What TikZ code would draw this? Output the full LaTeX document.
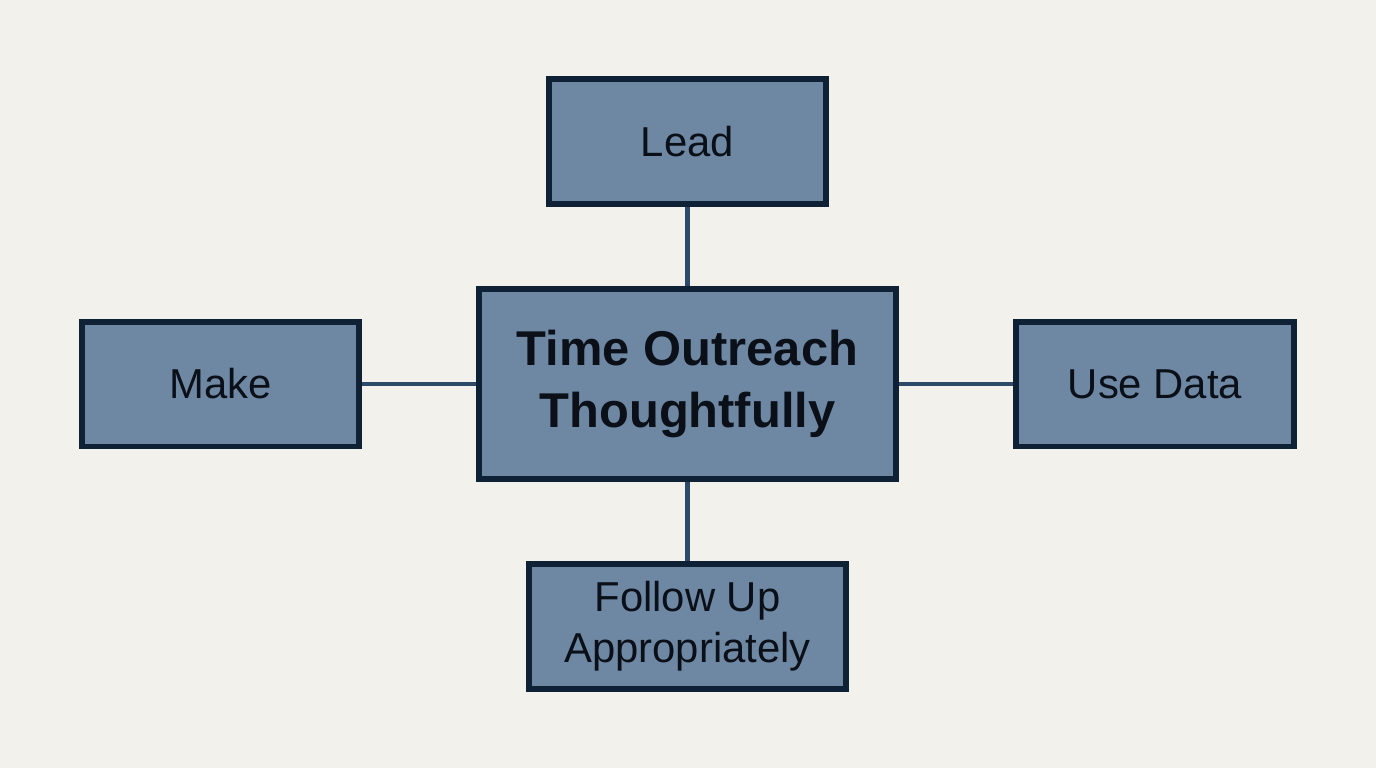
\documentclass[tikz,border=0pt]{standalone}
\usepackage{fontspec}
\setmainfont{Liberation Sans}
\usepackage{tikz}
\usetikzlibrary{positioning}

\definecolor{paper}{HTML}{F3F1EB}
\definecolor{boxfill}{HTML}{6E88A3}
\definecolor{boxline}{HTML}{0F2135}
\definecolor{linkcol}{HTML}{2E4A6B}
\definecolor{inkcol}{HTML}{0A0F18}

\tikzset{
    topic/.style={draw=boxline, fill=boxfill, line width=3.4pt, text=inkcol,
        minimum width=5.54cm, minimum height=2.5cm, align=center,
        font=\fontsize{23.8}{29}\selectfont},
    hub/.style={topic, minimum width=8.34cm, minimum height=3.8cm,
        font=\fontsize{27.8}{35.5}\selectfont\bfseries},
    link/.style={draw=linkcol, line width=2.8pt}
}

\begin{document}
\begin{tikzpicture}[x=0.02cm, y=-0.02cm]
    \fill[paper] (0,0) rectangle (1376,768);
    \useasboundingbox (0,0) rectangle (1376,768);

    \node[hub] (hub) at (687.5,384) {Time Outreach\\Thoughtfully};
    \node[topic] (lead) at (687.5,141.5) {Lead};
    \node[topic] (make) at (220.5,384) {Make};
    \node[topic, minimum width=5.56cm] (data) at (1155,384) {Use Data};
    \node[topic, minimum width=6.34cm] (follow) at (687.5,626.5) {Follow Up\\Appropriately};

    \draw[link] (lead) -- (hub);
    \draw[link] (make) -- (hub);
    \draw[link] (hub) -- (data);
    \draw[link] (hub) -- (follow);
\end{tikzpicture}
\end{document}
